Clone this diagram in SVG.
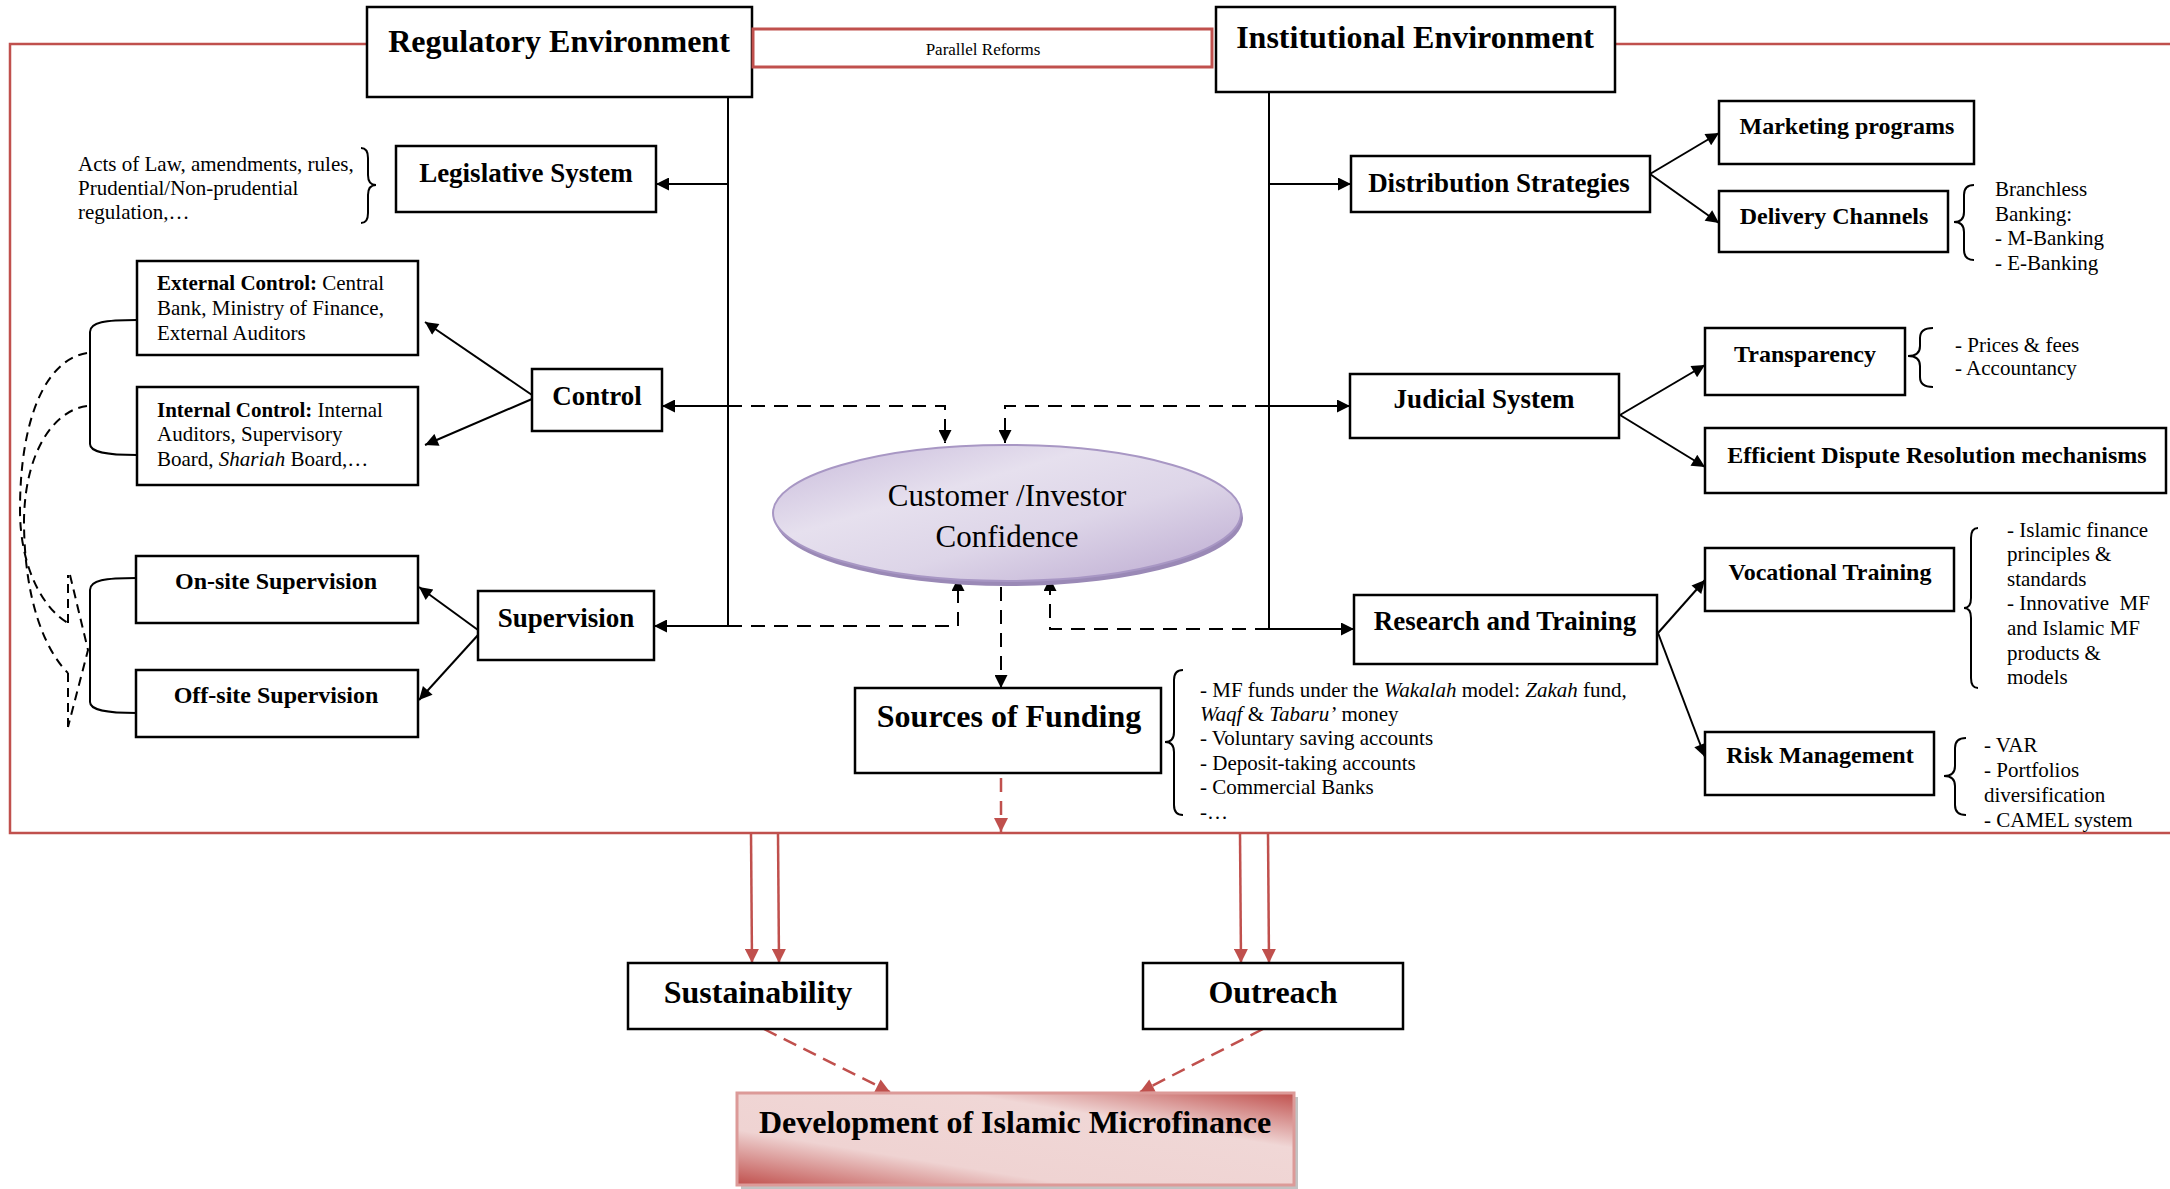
<svg xmlns="http://www.w3.org/2000/svg" width="2170" height="1189" viewBox="0 0 2170 1189">
<style>
.box{fill:#fff;stroke:#000;stroke-width:2.5}
text{font-family:"Liberation Serif","Times New Roman",serif;fill:#000}
.b{font-weight:bold}
.c{text-anchor:middle}
.n{font-size:21px}
.ln{stroke:#000;stroke-width:2;fill:none}
.dash{stroke-dasharray:14 9}
.sd{stroke:#000;stroke-width:2;fill:none;stroke-dasharray:9 6}
.red{stroke:#c0504d;stroke-width:2.5;fill:none}
.br{stroke:#000;stroke-width:2;fill:none}
</style>
<defs>
<marker id="ah" viewBox="0 0 10 10" refX="10" refY="5" markerWidth="15" markerHeight="13" markerUnits="userSpaceOnUse" orient="auto"><path d="M0,0 L10,5 L0,10 z" fill="#000"/></marker>
<marker id="ahr" viewBox="0 0 10 10" refX="10" refY="5" markerWidth="16" markerHeight="14" markerUnits="userSpaceOnUse" orient="auto"><path d="M0,0 L10,5 L0,10 z" fill="#c0504d"/></marker>
<linearGradient id="ellG" x1="0" y1="0" x2="1" y2="1">
<stop offset="0" stop-color="#c7b9da"/>
<stop offset="0.35" stop-color="#e6e0ee"/>
<stop offset="0.6" stop-color="#ddd5e8"/>
<stop offset="1" stop-color="#bba9d0"/>
</linearGradient>
<linearGradient id="devG" x1="0" y1="1" x2="1" y2="0">
<stop offset="0" stop-color="#c0504d"/>
<stop offset="0.3" stop-color="#efd3d2"/>
<stop offset="0.7" stop-color="#f0d7d6"/>
<stop offset="1" stop-color="#c0504d"/>
</linearGradient>
</defs>

<!-- red frame -->
<g id="frame">
<path class="red" d="M367,44 L10,44 L10,833 L2170,833" stroke-width="3"/>
<path class="red" d="M1615,44 L2170,44" stroke-width="3"/>
</g>

<!-- connectors -->
<g id="connectors">
<!-- regulatory trunk -->
<path class="ln" d="M728,97 L728,626"/>
<path class="ln" d="M728,184 L656,184" marker-end="url(#ah)"/>
<path class="ln" d="M728,406 L662,406" marker-end="url(#ah)"/>
<path class="ln" d="M728,626 L654,626" marker-end="url(#ah)"/>
<path class="ln dash" d="M728,406 L945,406 L945,443" marker-end="url(#ah)"/>
<path class="ln dash" d="M728,626 L958,626 L958,578" marker-end="url(#ah)"/>
<!-- control / supervision -->
<path class="ln" d="M532,395 L425,322" marker-end="url(#ah)"/>
<path class="ln" d="M532,399 L425,445" marker-end="url(#ah)"/>
<path class="ln" d="M478,630 L419,587" marker-end="url(#ah)"/>
<path class="ln" d="M478,635 L419,700" marker-end="url(#ah)"/>
<!-- institutional trunk -->
<path class="ln" d="M1269,92 L1269,629"/>
<path class="ln" d="M1269,184 L1351,184" marker-end="url(#ah)"/>
<path class="ln" d="M1269,406 L1350,406" marker-end="url(#ah)"/>
<path class="ln" d="M1269,629 L1354,629" marker-end="url(#ah)"/>
<path class="ln dash" d="M1269,406 L1005,406 L1005,443" marker-end="url(#ah)"/>
<path class="ln dash" d="M1269,629 L1050,629 L1050,578" marker-end="url(#ah)"/>
<!-- right side arrows -->
<path class="ln" d="M1650,174 L1719,133" marker-end="url(#ah)"/>
<path class="ln" d="M1650,174 L1719,223" marker-end="url(#ah)"/>
<path class="ln" d="M1620,415 L1705,365" marker-end="url(#ah)"/>
<path class="ln" d="M1620,415 L1705,467" marker-end="url(#ah)"/>
<path class="ln" d="M1658,633 L1705,580" marker-end="url(#ah)"/>
<path class="ln" d="M1658,633 L1705,757" marker-end="url(#ah)"/>
<!-- ellipse to funding -->
<path class="ln dash" d="M1001,587 L1001,688" marker-end="url(#ah)"/>
<path class="red dash" d="M1001,778 L1001,832" marker-end="url(#ahr)"/>
<!-- to sustainability / outreach -->
<path class="red" d="M751,833 L752,963" marker-end="url(#ahr)"/>
<path class="red" d="M778,833 L779,963" marker-end="url(#ahr)"/>
<path class="red" d="M1240,833 L1241,963" marker-end="url(#ahr)"/>
<path class="red" d="M1268,833 L1269,963" marker-end="url(#ahr)"/>
<path class="red" d="M764,1029 L890,1092" stroke-width="3" stroke-dasharray="14 8" marker-end="url(#ahr)"/>
<path class="red" d="M1263,1029 L1140,1092" stroke-width="3" stroke-dasharray="14 8" marker-end="url(#ahr)"/>
<!-- left brackets -->
<path class="br" d="M137,320 C105,320 90,322 90,332 L90,444 C90,452 105,455 137,455"/>
<path class="br" d="M137,578 C105,578 90,580 90,590 L90,702 C90,710 105,713 137,713"/>
<path class="sd" d="M87,353 C45,360 20,420 20,510 C20,570 45,610 68,623"/>
<path class="sd" d="M68,623 L68,575"/>
<path class="sd" d="M87,406 C55,410 25,450 24,520 C24,600 45,650 68,673"/>
<path class="sd" d="M68,673 L68,727"/>
<path class="sd" d="M70,575 L88,650 L68,727"/>
</g>

<!-- braces -->
<g id="braces">
<path class="br" d="M361,148 Q368,148 368,158 L368,175 Q368,185 376,185 Q368,185 368,195 L368,213 Q368,223 361,223"/>
<path class="br" d="M1974,185 Q1964,185 1964,195 L1964,212 Q1964,222 1954,222 Q1964,222 1964,232 L1964,250 Q1964,260 1974,260"/>
<path class="br" d="M1933,328 Q1920,328 1920,338 L1920,346 Q1920,356 1908,356 Q1920,356 1920,366 L1920,377 Q1920,387 1933,387"/>
<path class="br" d="M1978,528 Q1971,528 1971,538 L1971,598 Q1971,608 1964,608 Q1971,608 1971,618 L1971,678 Q1971,688 1978,688"/>
<path class="br" d="M1966,738 Q1955,738 1955,748 L1955,766 Q1955,776 1944,776 Q1955,776 1955,786 L1955,805 Q1955,815 1966,815"/>
<path class="br" d="M1183,670 Q1174,670 1174,680 L1174,732 Q1174,742 1165,742 Q1174,742 1174,752 L1174,805 Q1174,815 1183,815"/>
</g>

<g id="regulatory-environment">
<rect class="box" x="367" y="7" width="385" height="90"/>
<text class="b c" x="559" y="52" font-size="32">Regulatory Environment</text>
</g>
<g id="parallel-reforms">
<rect x="753" y="29" width="459" height="38" fill="#fff" stroke="#c0504d" stroke-width="3"/>
<text class="c" x="983" y="55" font-size="17">Parallel Reforms</text>
</g>
<g id="institutional-environment">
<rect class="box" x="1216" y="7" width="399" height="85"/>
<text class="b c" x="1415" y="48" font-size="32">Institutional Environment</text>
</g>

<g id="legislative-note">
<text class="n" x="78" y="171">Acts of Law, amendments, rules,</text>
<text class="n" x="78" y="195">Prudential/Non-prudential</text>
<text class="n" x="78" y="219">regulation,…</text>
</g>
<g id="legislative-system">
<rect class="box" x="396" y="146" width="260" height="66"/>
<text class="b c" x="526" y="182" font-size="27">Legislative System</text>
</g>
<g id="external-control">
<rect class="box" x="137" y="261" width="281" height="94"/>
<text class="n" x="157" y="290"><tspan class="b">External Control:</tspan> Central</text>
<text class="n" x="157" y="315">Bank, Ministry of Finance,</text>
<text class="n" x="157" y="340">External Auditors</text>
</g>
<g id="internal-control">
<rect class="box" x="137" y="387" width="281" height="98"/>
<text class="n" x="157" y="417"><tspan class="b">Internal Control:</tspan> Internal</text>
<text class="n" x="157" y="441">Auditors, Supervisory</text>
<text class="n" x="157" y="466">Board, <tspan font-style="italic">Shariah</tspan> Board,…</text>
</g>
<g id="control">
<rect class="box" x="532" y="369" width="130" height="62"/>
<text class="b c" x="597" y="405" font-size="27">Control</text>
</g>
<g id="onsite-supervision">
<rect class="box" x="136" y="556" width="282" height="67"/>
<text class="b c" x="276" y="589" font-size="24">On-site Supervision</text>
</g>
<g id="offsite-supervision">
<rect class="box" x="136" y="670" width="282" height="67"/>
<text class="b c" x="276" y="703" font-size="24">Off-site Supervision</text>
</g>
<g id="supervision">
<rect class="box" x="478" y="591" width="176" height="69"/>
<text class="b c" x="566" y="627" font-size="27">Supervision</text>
</g>

<g id="confidence">
<ellipse cx="1009" cy="518" rx="234" ry="68" fill="#9a89b6"/>
<ellipse cx="1007" cy="513" rx="234" ry="68" fill="url(#ellG)" stroke="#a897c4" stroke-width="2"/>
<text class="c" x="1007" y="506" font-size="31">Customer /Investor</text>
<text class="c" x="1007" y="547" font-size="31">Confidence</text>
</g>

<g id="sources-of-funding">
<rect class="box" x="855" y="688" width="306" height="85"/>
<text class="b c" x="1009" y="727" font-size="32">Sources of Funding</text>
</g>
<g id="funding-note">
<text class="n" x="1200" y="697">- MF funds under the <tspan font-style="italic">Wakalah</tspan> model: <tspan font-style="italic">Zakah</tspan> fund,</text>
<text class="n" x="1200" y="721"><tspan font-style="italic">Waqf</tspan> &amp; <tspan font-style="italic">Tabaru’</tspan> money</text>
<text class="n" x="1200" y="745">- Voluntary saving accounts</text>
<text class="n" x="1200" y="770">- Deposit-taking accounts</text>
<text class="n" x="1200" y="794">- Commercial Banks</text>
<text class="n" x="1200" y="819">-…</text>
</g>

<g id="distribution-strategies">
<rect class="box" x="1351" y="156" width="299" height="56"/>
<text class="b c" x="1499" y="192" font-size="27">Distribution Strategies</text>
</g>
<g id="marketing-programs">
<rect class="box" x="1719" y="101" width="255" height="63"/>
<text class="b c" x="1847" y="134" font-size="24">Marketing programs</text>
</g>
<g id="delivery-channels">
<rect class="box" x="1719" y="191" width="229" height="61"/>
<text class="b c" x="1834" y="224" font-size="24">Delivery Channels</text>
</g>
<g id="delivery-note">
<text class="n" x="1995" y="196">Branchless</text>
<text class="n" x="1995" y="221">Banking:</text>
<text class="n" x="1995" y="245">- M-Banking</text>
<text class="n" x="1995" y="270">- E-Banking</text>
</g>

<g id="judicial-system">
<rect class="box" x="1350" y="374" width="269" height="64"/>
<text class="b c" x="1484" y="408" font-size="27">Judicial System</text>
</g>
<g id="transparency">
<rect class="box" x="1705" y="328" width="200" height="67"/>
<text class="b c" x="1805" y="362" font-size="24">Transparency</text>
</g>
<g id="transparency-note">
<text class="n" x="1955" y="352">- Prices &amp; fees</text>
<text class="n" x="1955" y="375">- Accountancy</text>
</g>
<g id="dispute-resolution">
<rect class="box" x="1705" y="428" width="461" height="65"/>
<text class="b c" x="1937" y="463" font-size="24">Efficient Dispute Resolution mechanisms</text>
</g>

<g id="research-training">
<rect class="box" x="1354" y="595" width="303" height="69"/>
<text class="b c" x="1505" y="630" font-size="27">Research and Training</text>
</g>
<g id="vocational-training">
<rect class="box" x="1705" y="548" width="249" height="63"/>
<text class="b c" x="1830" y="580" font-size="24">Vocational Training</text>
</g>
<g id="vocational-note">
<text class="n" x="2007" y="537">- Islamic finance</text>
<text class="n" x="2007" y="561">principles &amp;</text>
<text class="n" x="2007" y="586">standards</text>
<text class="n" x="2007" y="610" xml:space="preserve">- Innovative  MF</text>
<text class="n" x="2007" y="635">and Islamic MF</text>
<text class="n" x="2007" y="660">products &amp;</text>
<text class="n" x="2007" y="684">models</text>
</g>
<g id="risk-management">
<rect class="box" x="1705" y="732" width="229" height="63"/>
<text class="b c" x="1820" y="763" font-size="24">Risk Management</text>
</g>
<g id="risk-note">
<text class="n" x="1984" y="752">- VAR</text>
<text class="n" x="1984" y="777">- Portfolios</text>
<text class="n" x="1984" y="802">diversification</text>
<text class="n" x="1984" y="827">- CAMEL system</text>
</g>

<g id="sustainability">
<rect class="box" x="628" y="963" width="259" height="66"/>
<text class="b c" x="758" y="1003" font-size="32">Sustainability</text>
</g>
<g id="outreach">
<rect class="box" x="1143" y="963" width="260" height="66"/>
<text class="b c" x="1273" y="1003" font-size="32">Outreach</text>
</g>
<g id="development">
<rect x="741" y="1097" width="557" height="92" fill="#9a9a9a" opacity="0.6"/>
<rect x="737" y="1093" width="557" height="92" fill="url(#devG)" stroke="#dc9a98" stroke-width="3"/>
<text class="b c" x="1015" y="1133" font-size="32">Development of Islamic Microfinance</text>
</g>
</svg>
